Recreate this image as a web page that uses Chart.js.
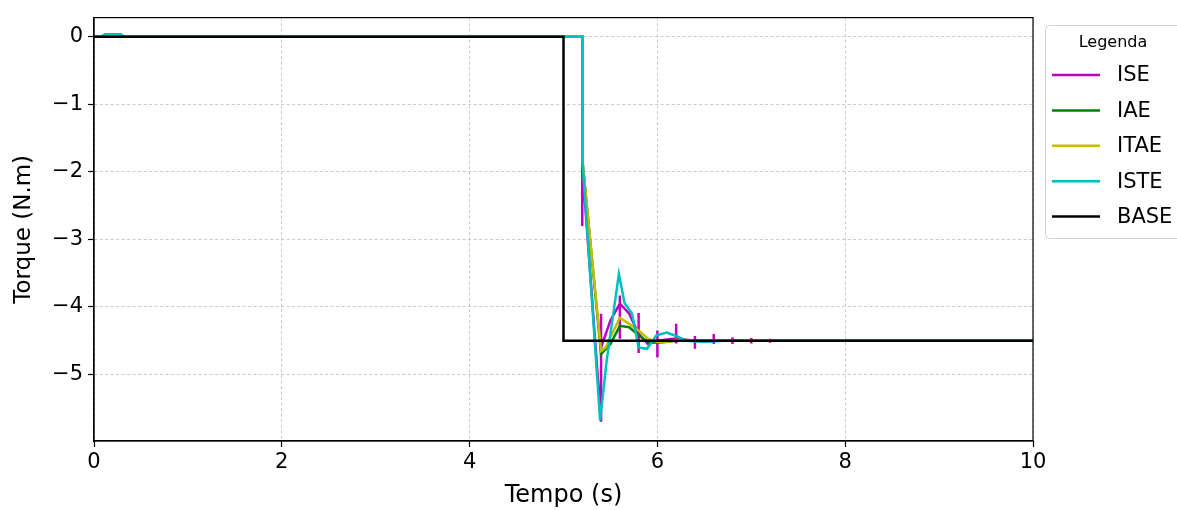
<!DOCTYPE html>
<html>
<head>
<meta charset="utf-8">
<script src="https://cdn.jsdelivr.net/npm/chart.js@4.4.1/dist/chart.umd.min.js"></script>
<style>
  html, body { margin: 0; padding: 0; background: #ffffff; }
  #wrap { width: 1177px; height: 510px; position: relative; }
</style>
</head>
<body>
<div id="wrap"><canvas id="torque-chart" width="1177" height="510"></canvas></div>
<script>
// series (time in s, torque in N.m)
const tempoISE = [0, 5.2, 5.2, 5.2, 5.4, 5.4, 5.4, 5.4, 5.5, 5.6, 5.6, 5.6, 5.6, 5.7, 5.8, 5.8, 5.8, 5.8, 5.9, 6.0, 6.0, 6.0, 6.0, 6.1, 6.2, 6.2, 6.2, 6.2, 6.4, 6.4, 6.4, 6.4, 6.6, 6.6, 6.6, 6.6, 6.8, 6.8, 6.8, 6.8, 7.0, 7.0, 7.0, 7.0, 7.2, 7.2, 7.2, 7.2, 7.4, 7.4, 7.4, 7.4, 7.6, 7.6, 7.6, 7.6, 10];
const torqueISE = [0, 0, -2.8, -1.9, -5.7, -4.1, -4.75, -4.6, -4.2, -3.95, -3.83, -4.47, -3.95, -4.1, -4.4, -4.09, -4.68, -4.4, -4.55, -4.5, -4.35, -4.75, -4.5, -4.48, -4.47, -4.25, -4.54, -4.47, -4.5, -4.43, -4.62, -4.5, -4.5, -4.4, -4.55, -4.5, -4.5, -4.45, -4.55, -4.5, -4.5, -4.46, -4.54, -4.5, -4.5, -4.47, -4.53, -4.5, -4.5, -4.48, -4.52, -4.5, -4.5, -4.485, -4.515, -4.5, -4.5];

const tempoIAE = [0, 0.08, 0.12, 0.28, 0.32, 5.2, 5.2, 5.4, 5.5, 5.6, 5.7, 5.8, 5.9, 6.0, 6.2, 10];
const torqueIAE = [0, 0, 0.04, 0.04, 0, 0, -1.8, -4.7, -4.55, -4.28, -4.3, -4.42, -4.52, -4.53, -4.5, -4.5];

const tempoITAE = [0, 5.2, 5.2, 5.4, 5.45, 5.5, 5.6, 5.7, 5.8, 5.9, 6.0, 6.1, 6.2, 6.4, 10];
const torqueITAE = [0, 0, -1.8, -4.65, -4.6, -4.45, -4.16, -4.25, -4.35, -4.47, -4.52, -4.52, -4.49, -4.5, -4.5];

const tempoISTE = [0, 0.08, 0.12, 0.28, 0.32, 5.2, 5.2, 5.39, 5.46, 5.59, 5.65, 5.73, 5.8, 5.89, 5.99, 6.1, 6.2, 6.31, 6.5, 6.7, 10];
const torqueISTE = [0, 0, 0.04, 0.04, 0, 0, -1.8, -5.68, -4.79, -3.51, -3.94, -4.1, -4.6, -4.62, -4.42, -4.38, -4.43, -4.5, -4.52, -4.5, -4.5];

const tempoBASE = [0, 5.0, 5.0, 10];
const torqueBASE = [0, 0, -4.5, -4.5];

const xTicks = [0, 2, 4, 6, 8, 10];
const yTicks = [-5, -4, -3, -2, -1, 0];

const labels = ["ISE", "IAE", "ITAE", "ISTE", "BASE"];
const colors = ["#bf00bf", "#008000", "#bfbf00", "#00bfbf", "#000000"];
const tempos = [tempoISE, tempoIAE, tempoITAE, tempoISTE, tempoBASE];
const torques = [torqueISE, torqueIAE, torqueITAE, torqueISTE, torqueBASE];

const FONT = "'DejaVu Sans', sans-serif";
const minus = (v) => String(v).replace("-", "\u2212");

function toPoints(t, v) {
  return t.map((x, i) => ({ x: x, y: v[i] }));
}

// later series are painted on top, like matplotlib
const datasets = labels.map((name, i) => ({
  label: name,
  data: toPoints(tempos[i], torques[i]),
  borderColor: colors[i],
  backgroundColor: colors[i],
  borderWidth: 2.5,
  pointRadius: 0,
  tension: 0,
  fill: false,
  order: labels.length - i,
}));

// frame on all four sides of the plot
const framePlugin = {
  id: "frame",
  afterDatasetsDraw(chart) {
    const { ctx, chartArea: a } = chart;
    ctx.save();
    ctx.strokeStyle = "#000";
    ctx.lineWidth = 1.2;
    ctx.strokeRect(a.left, a.top, a.right - a.left, a.bottom - a.top);
    ctx.restore();
  },
};

// legend box with title, at the right of the plot
const legendBox = {
  id: "legendBox",
  afterDraw(chart) {
    const ctx = chart.ctx;
    const x0 = 1045, y0 = 25, w = 140, h = 213;
    ctx.save();
    ctx.fillStyle = "rgba(255,255,255,0.9)";
    ctx.strokeStyle = "#d0d0d0";
    ctx.lineWidth = 1;
    ctx.beginPath();
    ctx.roundRect(x0 + 0.5, y0 + 0.5, w, h, 4);
    ctx.fill();
    ctx.stroke();
    ctx.fillStyle = "#000";
    ctx.font = "16px " + FONT;
    ctx.textAlign = "center";
    ctx.textBaseline = "middle";
    ctx.fillText("Legenda", 1113, 43);
    ctx.textAlign = "left";
    ctx.font = "21px " + FONT;
    chart.data.datasets.forEach((ds, i) => {
      const y = 75 + i * 35.4;
      ctx.strokeStyle = ds.borderColor;
      ctx.lineWidth = 2.5;
      ctx.beginPath();
      ctx.moveTo(1052, y);
      ctx.lineTo(1100, y);
      ctx.stroke();
      ctx.fillStyle = "#000";
      ctx.fillText(ds.label, 1117, y + 1);
    });
    ctx.restore();
  },
};

const gridStyle = {
  color: "#bdbdbd",
  lineWidth: 0.8,
  tickColor: "#000",
  tickLength: 6,
  tickBorderDash: [],
  tickWidth: 1.2,
};
const borderStyle = { color: "#000", width: 1.2, dash: [3, 2.5] };

new Chart(document.getElementById("torque-chart"), {
  type: "line",
  data: { datasets: datasets },
  options: {
    responsive: false,
    animation: false,
    layout: { padding: { top: 15, right: 144, left: 0, bottom: 0 } },
    plugins: { legend: { display: false }, tooltip: { enabled: false } },
    scales: {
      x: {
        type: "linear",
        min: 0,
        max: 10,
        afterBuildTicks: (s) => { s.ticks = xTicks.map((v) => ({ value: v })); },
        afterFit: (s) => { s.height = 69; },
        grid: gridStyle,
        border: borderStyle,
        ticks: {
          color: "#000",
          padding: 3,
          maxRotation: 0,
          font: { family: FONT, size: 21 },
          callback: (v) => minus(v),
        },
        title: {
          display: true,
          text: "Tempo (s)",
          color: "#000",
          font: { family: FONT, size: 24 },
          padding: { top: 0, bottom: 0 },
        },
      },
      y: {
        type: "linear",
        min: -5.985,
        max: 0.285,
        afterBuildTicks: (s) => { s.ticks = yTicks.map((v) => ({ value: v })); },
        afterFit: (s) => { s.width = 94; },
        grid: gridStyle,
        border: borderStyle,
        ticks: {
          color: "#000",
          padding: 5,
          font: { family: FONT, size: 21 },
          callback: (v) => minus(v),
        },
        title: {
          display: true,
          text: "Torque (N.m)",
          color: "#000",
          font: { family: FONT, size: 23 },
          padding: { top: 10, bottom: 10 },
        },
      },
    },
  },
  plugins: [framePlugin, legendBox],
});
</script>
</body>
</html>
